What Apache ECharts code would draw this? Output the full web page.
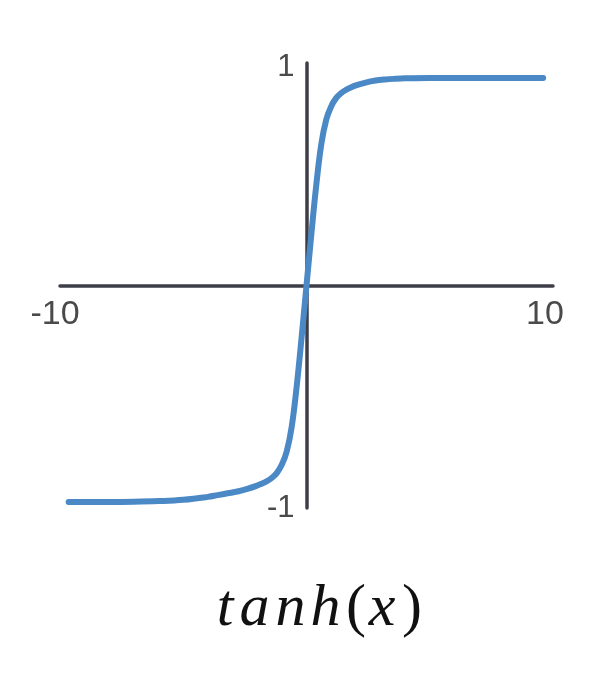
<!DOCTYPE html>
<html>
<head>
<meta charset="utf-8">
<script src="https://cdn.jsdelivr.net/npm/echarts@6/dist/echarts.min.js"></script>
<style>
html,body{margin:0;padding:0;background:#fff;}
#chart{width:594px;height:678px;}
</style>
</head>
<body>
<div id="chart"></div>
<script>
// x values
const xValues = [-9.65, -8, -7, -6, -5, -4,
  -3.6, -3.2, -2.8, -2.4, -2.0, -1.8, -1.6, -1.4, -1.2, -1.0, -0.8, -0.6, -0.4, -0.2,
  0,
  0.2, 0.4, 0.6, 0.8, 1.0, 1.2, 1.4, 1.6, 1.8, 2.0, 2.4, 2.8, 3.2, 3.6,
  4, 5, 6, 7, 8, 9.6];
// y values
const yValues = [-0.973, -0.973, -0.972, -0.969, -0.963, -0.950,
  -0.942, -0.934, -0.926, -0.914, -0.899, -0.890, -0.879, -0.864, -0.842, -0.805, -0.745, -0.635, -0.455, -0.235,
  0.0,
  0.235, 0.455, 0.635, 0.745, 0.805, 0.842, 0.864, 0.879, 0.890, 0.899, 0.912, 0.921, 0.926, 0.929,
  0.931, 0.933, 0.933, 0.933, 0.933, 0.933];
const xTickLabels = ['-10', '10'];
const yTickLabels = ['-1', '1'];
const titleChars = ['t', 'a', 'n', 'h', '(', 'x', ')'];

const chart = echarts.init(document.getElementById('chart'));
const seriesData = xValues.map((x, i) => [x, yValues[i]]);

const titleKeys = ['c0','c1','c2','c3','c4','c5','c6'];
const titleWidths = [28, 31, 41, 29, 32, 20, 40];
const rich = {};
titleKeys.forEach((k, i) => {
  const upright = titleChars[i] === '(' || titleChars[i] === ')';
  rich[k] = {
    fontFamily: 'Liberation Serif',
    fontStyle: upright ? 'normal' : 'italic',
    fontWeight: 'normal',
    fontSize: 60,
    color: '#111111',
    width: titleWidths[i],
    align: 'center',
    lineHeight: 68
  };
});
const titleText = titleChars.map((c, i) => '{' + titleKeys[i] + '|' + c + '}').join('');

const gridLeft = 60, gridRight = 41, gridTop = 63, gridBottom = 170;
const gridW = 594 - gridLeft - gridRight;
const gridH = 678 - gridTop - gridBottom;

chart.setOption({
  animation: false,
  backgroundColor: '#ffffff',
  title: {
    text: titleText,
    left: 206,
    top: 570,
    textStyle: { fontWeight: 'normal', rich: rich }
  },
  grid: { left: gridLeft, right: gridRight, top: gridTop, bottom: gridBottom },
  xAxis: {
    type: 'value',
    min: -10,
    max: 10,
    interval: 10,
    position: 'bottom',
    offset: -gridH / 2,
    axisLine: { onZero: false, lineStyle: { color: '#3e3e48', width: 3.5 } },
    axisTick: { show: false },
    splitLine: { show: false },
    axisLabel: {
      margin: 12,
      fontFamily: 'Liberation Sans',
      fontSize: 34,
      color: '#4a4a4a',
      formatter: function (v) {
        if (v === -10) return '{l|' + xTickLabels[0] + '}';
        if (v === 10) return '{r|' + xTickLabels[1] + '}';
        return '';
      },
      rich: {
        l: { fontFamily: 'Liberation Sans', fontSize: 34, color: '#4a4a4a', padding: [0, 10, 0, 0] },
        r: { fontFamily: 'Liberation Sans', fontSize: 34, color: '#4a4a4a', padding: [0, 16, 0, 0] }
      }
    }
  },
  yAxis: {
    type: 'value',
    min: -1,
    max: 1,
    interval: 1,
    position: 'left',
    offset: -gridW / 2,
    axisLine: { onZero: false, lineStyle: { color: '#3e3e48', width: 3.5 } },
    axisTick: { show: false },
    splitLine: { show: false },
    axisLabel: {
      margin: 12,
      fontFamily: 'Liberation Sans',
      fontSize: 31,
      color: '#4a4a4a',
      formatter: function (v) {
        if (v === -1) return '{b|' + yTickLabels[0] + '}';
        if (v === 1) return '{t|' + yTickLabels[1] + '}';
        return '';
      },
      rich: {
        t: { fontFamily: 'Liberation Sans', fontSize: 31, color: '#4a4a4a', padding: [9, 0, 0, 0] },
        b: { fontFamily: 'Liberation Sans', fontSize: 31, color: '#4a4a4a' }
      }
    }
  },
  series: [{
    type: 'line',
    data: seriesData,
    showSymbol: false,
    smooth: 0.4,
    lineStyle: { color: '#4a88c6', width: 6, cap: 'round' },
    z: 3
  }]
});
</script>
</body>
</html>
